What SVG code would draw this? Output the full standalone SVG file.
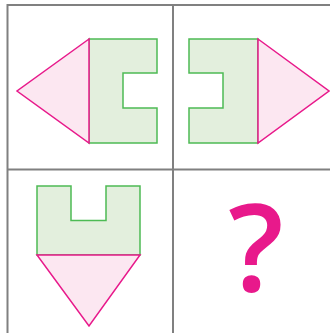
<svg xmlns="http://www.w3.org/2000/svg" width="330" height="333" viewBox="0 0 330 333">
<style>
.grid{stroke:#808080;stroke-width:2;fill:none}
.tri{fill:#FCE7F1;stroke:#E8198B;stroke-width:1.5;stroke-linejoin:miter}
.blk{fill:#E3EFDD;stroke:#4DBB54;stroke-width:1.5}
.q{fill:#E8198B;font-family:"Open Sans","Liberation Sans",sans-serif;font-weight:600}
</style>
<rect width="330" height="333" fill="#fff"/>
<g id="grid">
<path class="grid" d="M7.5,333 V5 H330 M173,5 V333 M7.5,169.5 H330"/>
</g>
<g id="panel1">
<path class="blk" d="M89,39 H157 V73 H123 V108 H157 V143 H89 Z"/>
<path class="tri" d="M89,39 L17,91 L89,143 Z"/>
</g>
<g id="panel2">
<path class="blk" d="M258,39 H189 V73 H223 V108 H189 V143 H258 Z"/>
<path class="tri" d="M258,39 L329,91 L258,143 Z"/>
</g>
<g id="panel3">
<path class="blk" d="M37,186 H71 V220.5 H106 V186 H140 V255 H37 Z"/>
<path class="tri" d="M37,255 H140 L89,326 Z"/>
</g>
<g id="panel4">
<text class="q" x="256" y="291" text-anchor="middle" font-size="122">?</text>
</g>
</svg>
